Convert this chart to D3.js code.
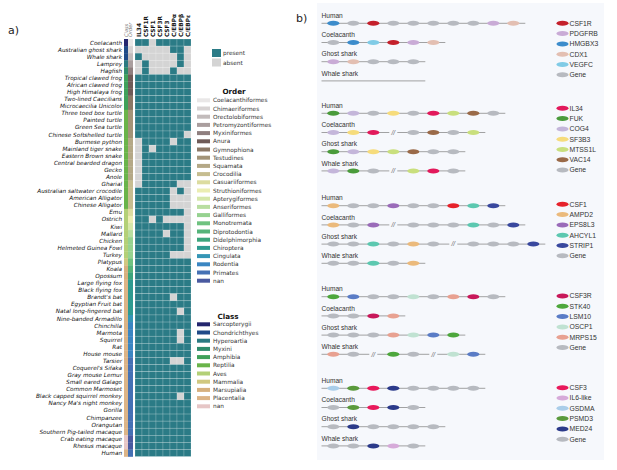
<!DOCTYPE html>
<html>
<head>
<meta charset="utf-8">
<script src="https://cdn.jsdelivr.net/npm/d3@7"></script>
<style>
  body { margin: 0; background: #fff; }
  svg { display: block; }
</style>
</head>
<body>
<div id="chart"></div>
<script>
// ---------- panel a data ----------
const species = ["Coelacanth", "Australian ghost shark", "Whale shark", "Lamprey", "Hagfish",
  "Tropical clawed frog", "African clawed frog", "High Himalaya frog", "Two-lined Caecilians",
  "Microcaecilia Unicolor", "Three toed box turtle", "Painted turtle", "Green Sea turtle",
  "Chinese Softshelled turtle", "Burmese python", "Mainland tiger snake", "Eastern Brown snake",
  "Central bearded dragon", "Gecko", "Anole", "Gharial", "Australian saltwater crocodile",
  "American Alligator", "Chinese Alligator", "Emu", "Ostrich", "Kiwi", "Mallard", "Chicken",
  "Helmeted Guinea Fowl", "Turkey", "Platypus", "Koala", "Opossum", "Large flying fox",
  "Black flying fox", "Brandt's bat", "Egyptian Fruit bat", "Natal long-fingered bat",
  "Nine-banded Armadillo", "Chinchilla", "Marmota", "Squirrel", "Rat", "House mouse", "Tarsier",
  "Coquerel's Sifaka", "Gray mouse Lemur", "Small eared Galago", "Common Marmoset",
  "Black capped squirrel monkey", "Nancy Ma's night monkey", "Gorilla", "Chimpanzee", "Orangutan",
  "Southern Pig-tailed macaque", "Crab eating macaque", "Rhesus macaque", "Human"];

const genes = ["IL34", "CSF1R", "CSF1", "CSF3R", "CSF3", "C/EBPα", "C/EBPβ", "C/EBPε"];

const speciesClass = ["Sarcopterygii", "Chondrichthyes", "Chondrichthyes", "Hyperoartia", "Myxini",
  "Amphibia", "Amphibia", "Amphibia", "Amphibia", "Amphibia",
  "Reptilia", "Reptilia", "Reptilia", "Reptilia", "Reptilia", "Reptilia", "Reptilia", "Reptilia",
  "Reptilia", "Reptilia", "Reptilia", "Reptilia", "Reptilia", "Reptilia",
  "Aves", "Aves", "Aves", "Aves", "Aves", "Aves", "Aves",
  "Mammalia", "Marsupialia", "Marsupialia",
  "Placentalia", "Placentalia", "Placentalia", "Placentalia", "Placentalia", "Placentalia",
  "Placentalia", "Placentalia", "Placentalia", "Placentalia", "Placentalia", "Placentalia",
  "Placentalia", "Placentalia", "Placentalia", "Placentalia", "Placentalia", "Placentalia",
  "Placentalia", "Placentalia", "Placentalia", "Placentalia", "nan", "nan", "Placentalia"];

const speciesOrder = ["Coelacanthiformes", "Chimaeriformes", "Orectolobiformes", "Petromyzontiformes",
  "Myxiniformes", "Anura", "Anura", "Anura", "Gymnophiona", "Gymnophiona",
  "Testudines", "Testudines", "Testudines", "Testudines",
  "Squamata", "Squamata", "Squamata", "Squamata", "Squamata", "Squamata",
  "Crocodilia", "Crocodilia", "Crocodilia", "Crocodilia",
  "Casuariiformes", "Struthioniformes", "Apterygiformes", "Anseriformes",
  "Galliformes", "Galliformes", "Galliformes",
  "Monotremata", "Diprotodontia", "Didelphimorphia",
  "Chiroptera", "Chiroptera", "Chiroptera", "Chiroptera", "Chiroptera", "Cingulata",
  "Rodentia", "Rodentia", "Rodentia", "Rodentia", "Rodentia",
  "Primates", "Primates", "Primates", "Primates", "Primates", "Primates", "Primates",
  "Primates", "Primates", "Primates", "Primates", "nan", "nan", "Primates"];

// one string per species, one digit per gene: 1 = present, 0 = absent
const presence = ["11011111", "00000110", "10000010", "01000010", "01000100",
  "11111111", "11111111", "11111111", "11111111", "11111111",
  "11111111", "11111111", "11111111", "11111110",
  "01111011", "01011111", "01111111", "01111111", "01111111", "01111111",
  "01111100", "11111010", "11111000", "11111000",
  "11111110", "11010000", "11111110", "11110110", "11111110", "11111110", "11111000",
  "11111111", "11111111", "11111111", "11111111", "11111111",
  "11111011", "11111111", "11111101", "11111111", "11111111",
  "11111101", "11111101", "11111111", "11111111", "11111001",
  "11111111", "11111111", "11111111", "11111111", "11111101",
  "11111111", "11111111", "11111111", "11111111", "11111111",
  "11111111", "11111111", "11111111"];

const orderNames = ["Coelacanthiformes", "Chimaeriformes", "Orectolobiformes", "Petromyzontiformes",
  "Myxiniformes", "Anura", "Gymnophiona", "Testudines", "Squamata", "Crocodilia", "Casuariiformes",
  "Struthioniformes", "Apterygiformes", "Anseriformes", "Galliformes", "Monotremata",
  "Diprotodontia", "Didelphimorphia", "Chiroptera", "Cingulata", "Rodentia", "Primates", "nan"];
const orderColors = ["#e9e7e7", "#d7d3d3", "#c2bbbb", "#aa9e9e", "#8f7f7f", "#6f5b58", "#8b7866",
  "#a39478", "#b4a886", "#c6bd90", "#dcdca0", "#ebedb2", "#d5e7aa", "#b8dea0", "#96d290",
  "#6fc280", "#55b47a", "#3ca57c", "#2f9b90", "#3596b6", "#3b86c2", "#4571b4", "#4a5aa0"];

const classNames = ["Sarcopterygii", "Chondrichthyes", "Hyperoartia", "Myxini", "Amphibia",
  "Reptilia", "Aves", "Mammalia", "Marsupialia", "Placentalia", "nan"];
const classColors = ["#24266e", "#1f4a88", "#2a7a82", "#2e8c6c", "#3fa15a", "#6ab44a",
  "#b3d077", "#d0c880", "#d6b07e", "#dcb487", "#e6c6c6"];

// ---------- panel b data ----------
const mapSpecies = ["Human", "Coelacanth", "Ghost shark", "Whale shark"];

const csf1rLoci = [
  ["HMGBX3", "Gene", "CSF1R", "Gene", "Gene", "Gene", "Gene", "Gene", "PDGFRB", "CDX1"],
  ["Gene", "HMGBX3", "VEGFC", "CSF1R", "PDGFRB", "CDX1"],
  ["PDGFRB", "CDX1", "Gene", "Gene", "Gene"],
  ["", "", "", "", ""]];
const csf1rLegend = ["CSF1R", "PDGFRB", "HMGBX3", "CDX1", "VEGFC", "Gene"];

const il34Loci = [
  ["FUK", "COG4", "Gene", "SF3B3", "Gene", "IL34", "MTSS1L", "VAC14", "Gene"],
  ["COG4", "SF3B3", "IL34", "//", "Gene", "VAC14", "Gene", "MTSS1L"],
  ["FUK", "COG4", "SF3B3", "MTSS1L", "VAC14", "Gene", "Gene"],
  ["COG4", "FUK", "Gene", "//", "MTSS1L", "IL34", "Gene"]];
const il34Legend = ["IL34", "FUK", "COG4", "SF3B3", "MTSS1L", "VAC14", "Gene"];

const csf1Loci = [
  ["AMPD2", "Gene", "Gene", "EPS8L3", "Gene", "Gene", "CSF1", "AHCYL1", "STRIP1"],
  ["AMPD2", "Gene", "EPS8L3", "//", "Gene", "Gene", "Gene", "AHCYL1", "Gene", "STRIP1"],
  ["Gene", "Gene", "AHCYL1", "Gene", "AMPD2", "Gene", "//", "Gene", "Gene", "Gene", "STRIP1"],
  ["Gene", "Gene", "AHCYL1", "Gene", "AMPD2"]];
const csf1Legend = ["CSF1", "AMPD2", "EPS8L3", "AHCYL1", "STRIP1", "Gene"];

const csf3rLoci = [
  ["STK40", "LSM10", "Gene", "Gene", "OSCP1", "Gene", "MRPS15", "CSF3R", "Gene"],
  ["Gene", "Gene", "CSF3R", "MRPS15"],
  ["Gene", "Gene", "Gene", "MRPS15", "OSCP1", "LSM10", "STK40"],
  ["MRPS15", "Gene", "//", "STK40", "Gene", "//", "OSCP1", "LSM10"]];
const csf3rLegend = ["CSF3R", "STK40", "LSM10", "OSCP1", "MRPS15", "Gene"];

const csf3Loci = [
  ["GSDMA", "PSMD3", "CSF3", "MED24", "Gene", "Gene", "Gene", "Gene"],
  ["Gene", "PSMD3", "CSF3", "MED24", "Gene"],
  ["Gene", "MED24", "Gene", "Gene", "Gene", "Gene"],
  ["Gene", "Gene", "MED24", "IL6-like", "Gene"]];
const csf3Legend = ["CSF3", "IL6-like", "GSDMA", "PSMD3", "MED24", "Gene"];

const geneColors = {
  "Gene": "#b7bac0", "CSF1R": "#c4202b", "PDGFRB": "#c9abd6", "HMGBX3": "#3c8ccb",
  "CDX1": "#e3bfb2", "VEGFC": "#80cbe6", "IL34": "#e2195b", "FUK": "#4a9b3b",
  "COG4": "#c4b6da", "SF3B3": "#f6dc7c", "MTSS1L": "#c9df7d", "VAC14": "#9a6a48",
  "CSF1": "#e6222b", "AMPD2": "#ebba7c", "EPS8L3": "#9a6bb9", "AHCYL1": "#5cc8b0",
  "STRIP1": "#39489e", "CSF3R": "#c8185a", "STK40": "#4da73c", "LSM10": "#5a7cc6",
  "OSCP1": "#c0e2d2", "MRPS15": "#e8a191", "CSF3": "#e8195b", "IL6-like": "#d6aad9",
  "GSDMA": "#a9cde9", "PSMD3": "#5a9a3c", "MED24": "#2b3a8a"
};

// ---------- svg ----------
const width = 617, height = 470;
const svg = d3.select("#chart").append("svg")
  .attr("width", width)
  .attr("height", height);

const dejavu = "'DejaVu Sans', sans-serif";

// ---------- panel a ----------
svg.append("text").attr("x", 8).attr("y", 34)
  .style("font", `11px ${dejavu}`).attr("fill", "#222").text("a)");

const x = d3.scaleBand().domain(genes).range([135, 191]);
const y = d3.scaleBand().domain(species).range([39, 456.5]);
const orderColor = d3.scaleOrdinal().domain(orderNames).range(orderColors);
const classColor = d3.scaleOrdinal().domain(classNames).range(classColors);

const cells = [];
species.forEach((s, i) => {
  genes.forEach((g, j) => cells.push({ species: s, gene: g, present: presence[i][j] === "1" }));
});

const heat = svg.append("g");
heat.selectAll("rect.cell")
  .data(cells)
  .enter()
  .append("rect")
  .attr("class", "cell")
  .attr("x", d => x(d.gene))
  .attr("y", d => y(d.species))
  .attr("width", x.bandwidth())
  .attr("height", y.bandwidth())
  .attr("fill", d => d.present ? "#2b7b86" : "#d4d4d4")
  .attr("stroke", "rgba(255,255,255,0.35)")
  .attr("stroke-width", 0.5);

// class and order strips
heat.selectAll("rect.cls")
  .data(species)
  .enter()
  .append("rect")
  .attr("class", "cls")
  .attr("x", 124)
  .attr("y", d => y(d))
  .attr("width", 4)
  .attr("height", y.bandwidth() + 0.3)
  .attr("fill", (d, i) => classColor(speciesClass[i]));

heat.selectAll("rect.ord")
  .data(species)
  .enter()
  .append("rect")
  .attr("class", "ord")
  .attr("x", 128)
  .attr("y", d => y(d))
  .attr("width", 5)
  .attr("height", y.bandwidth() + 0.3)
  .attr("fill", (d, i) => orderColor(speciesOrder[i]));

// species labels
heat.selectAll("text.sp")
  .data(species)
  .enter()
  .append("text")
  .attr("class", "sp")
  .attr("x", 122)
  .attr("y", d => y(d) + y.bandwidth() / 2)
  .attr("dy", "0.35em")
  .attr("text-anchor", "end")
  .style("font-family", dejavu)
  .style("font-style", "italic")
  .style("font-size", "5.7px")
  .attr("fill", "#111")
  .text(d => d);

// gene headers
heat.selectAll("text.gh")
  .data(genes)
  .enter()
  .append("text")
  .attr("class", "gh")
  .attr("transform", d => `translate(${x(d) + x.bandwidth() / 2 + 2},37) rotate(-90)`)
  .style("font-family", dejavu)
  .style("font-weight", "bold")
  .style("font-size", "5.8px")
  .attr("fill", "#111")
  .text(d => d);

heat.selectAll("text.strip")
  .data(["Class", "Order"])
  .enter()
  .append("text")
  .attr("transform", (d, i) => `translate(${127.5 + i * 4.5},37) rotate(-90)`)
  .style("font-family", dejavu)
  .style("font-style", "italic")
  .style("font-size", "5px")
  .attr("fill", "#777")
  .text(d => d);

// present / absent legend
const pa = svg.append("g");
pa.selectAll("rect")
  .data(["present", "absent"])
  .enter()
  .append("rect")
  .attr("x", 212)
  .attr("y", (d, i) => 49 + i * 9.5)
  .attr("width", 9)
  .attr("height", 8)
  .attr("fill", d => d === "present" ? "#2b7b86" : "#d4d4d4");
pa.selectAll("text")
  .data(["present", "absent"])
  .enter()
  .append("text")
  .attr("x", 223)
  .attr("y", (d, i) => 53 + i * 9.5)
  .attr("dy", "0.35em")
  .style("font", `5.8px ${dejavu}`)
  .attr("fill", "#333")
  .text(d => d);

// order / class legends
function swatchLegend(title, names, color, titleY, firstY, titleX) {
  const g = svg.append("g");
  g.append("text")
    .attr("x", titleX).attr("y", titleY)
    .attr("text-anchor", "middle")
    .style("font", `bold 7.2px ${dejavu}`)
    .attr("fill", "#111")
    .text(title);
  const item = g.selectAll("g.item")
    .data(names)
    .enter()
    .append("g")
    .attr("transform", (d, i) => `translate(0,${firstY + i * 8.2})`);
  item.append("rect")
    .attr("x", 197).attr("y", -2)
    .attr("width", 13).attr("height", 4)
    .attr("fill", d => color(d));
  item.append("text")
    .attr("x", 213).attr("y", 0)
    .attr("dy", "0.35em")
    .style("font", `5.8px ${dejavu}`)
    .attr("fill", "#333")
    .text(d => d);
}
swatchLegend("Order", orderNames, orderColor, 94, 100.3, 234);
swatchLegend("Class", classNames, classColor, 318.5, 324.3, 228);

// ---------- panel b ----------
svg.append("text").attr("x", 296).attr("y", 22)
  .style("font", `11px ${dejavu}`).attr("fill", "#222").text("b)");

svg.append("rect")
  .attr("x", 317).attr("y", 3)
  .attr("width", 287).attr("height", 457)
  .attr("fill", "#f6f8fc");

const slot = d3.scaleLinear().domain([0, 1]).range([333.3, 353.3]);
const arial = "'Liberation Sans', Arial, sans-serif";

const blocks = [
  { loci: csf1rLoci, legend: csf1rLegend, top: 23.3, legendTop: 23.3 },
  { loci: il34Loci, legend: il34Legend, top: 113.3, legendTop: 108.3 },
  { loci: csf1Loci, legend: csf1Legend, top: 205.7, legendTop: 204.3 },
  { loci: csf3rLoci, legend: csf3rLegend, top: 296.7, legendTop: 296 },
  { loci: csf3Loci, legend: csf3Legend, top: 388.3, legendTop: 387.7 }
];

blocks.forEach(b => {
  const g = svg.append("g");
  b.loci.forEach((row, r) => {
    const ly = b.top + r * 19.2;
    g.append("text")
      .attr("x", 321.5).attr("y", ly - 5.3)
      .style("font", `6.6px ${arial}`)
      .attr("fill", "#333")
      .text(mapSpecies[r]);
    g.append("line")
      .attr("x1", 321.5).attr("x2", slot(row.length - 1) + 12)
      .attr("y1", ly).attr("y2", ly)
      .attr("stroke", "#8c8c8c").attr("stroke-width", 0.8);
    row.forEach((gene, i) => {
      if (gene === "//") {
        g.append("rect")
          .attr("x", slot(i) - 4).attr("y", ly - 2)
          .attr("width", 8).attr("height", 4)
          .attr("fill", "#f6f8fc");
        g.append("text")
          .attr("x", slot(i)).attr("y", ly + 2.3)
          .attr("text-anchor", "middle")
          .style("font", `italic 6.5px ${arial}`)
          .attr("fill", "#666")
          .text("//");
      } else if (gene !== "") {
        g.append("ellipse")
          .attr("cx", slot(i)).attr("cy", ly)
          .attr("rx", 6).attr("ry", 2.5)
          .attr("fill", geneColors[gene]);
      }
    });
  });
  const leg = g.selectAll("g.leg")
    .data(b.legend)
    .enter()
    .append("g")
    .attr("transform", (d, i) => `translate(0,${b.legendTop + i * 10.3})`);
  leg.append("ellipse")
    .attr("cx", 562.5).attr("cy", 0)
    .attr("rx", 6).attr("ry", 2.5)
    .attr("fill", d => geneColors[d]);
  leg.append("text")
    .attr("x", 569.5).attr("y", 0)
    .attr("dy", "0.35em")
    .style("font", `6.8px ${arial}`)
    .attr("fill", "#333")
    .text(d => d);
});
</script>
</body>
</html>
